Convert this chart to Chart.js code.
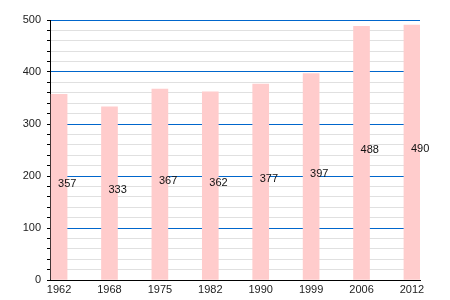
<!DOCTYPE html>
<html>
<head>
<meta charset="utf-8">
<script src="https://cdn.jsdelivr.net/npm/chart.js@4/dist/chart.umd.min.js"></script>
<style>
  body { margin: 0; background: #fff; }
</style>
</head>
<body>
<canvas id="myChart" width="450" height="300"></canvas>
<script>
const years = ["1962", "1968", "1975", "1982", "1990", "1999", "2006", "2012"];
const population = [357, 333, 367, 362, 377, 397, 488, 490];
const yTicks = [0, 100, 200, 300, 400, 500];
const minorStep = 20;

const fontFamily = "'Liberation Sans', Arial, sans-serif";

// draws the value in the middle of each bar, starting at the bar's center
const barLabels = {
  id: "barLabels",
  afterDatasetsDraw(chart) {
    const ctx = chart.ctx;
    const meta = chart.getDatasetMeta(0);
    ctx.save();
    ctx.font = "11px " + fontFamily;
    ctx.fillStyle = "#111";
    ctx.textAlign = "left";
    ctx.textBaseline = "alphabetic";
    meta.data.forEach((bar, i) => {
      ctx.fillText(population[i], bar.x - 1, (bar.y + bar.base) / 2);
    });
    ctx.restore();
  },
};

const ctx = document.getElementById("myChart").getContext("2d");
const myChart = new Chart(ctx, {
  type: "bar",
  data: {
    datasets: [
      {
        data: population.map((v, i) => ({ x: i, y: v })),
        backgroundColor: "#ffcccc",
        borderWidth: 0,
        barThickness: 16,
      },
    ],
  },
  options: {
    responsive: false,
    animation: false,
    layout: { padding: { top: 20, right: 30, left: 0, bottom: 0 } },
    plugins: {
      legend: { display: false },
      tooltip: { enabled: false },
    },
    scales: {
      x: {
        type: "linear",
        offset: false,
        min: -0.18,
        max: 7.16,
        afterBuildTicks: (axis) => {
          axis.ticks = years.map((_, i) => ({ value: i }));
        },
        afterFit: (axis) => {
          axis.height = 20;
        },
        grid: { offset: false, drawOnChartArea: false, drawTicks: false },
        border: { color: "#000", width: 1 },
        ticks: {
          padding: 3,
          color: "#222",
          font: { family: fontFamily, size: 11 },
          maxRotation: 0,
          autoSkip: false,
          callback: (value) => years[value],
        },
      },
      y: {
        min: 0,
        max: 500,
        afterFit: (axis) => {
          axis.width = 50;
        },
        afterBuildTicks: (axis) => {
          const ticks = [];
          for (let v = 0; v <= 500; v += minorStep) ticks.push({ value: v });
          axis.ticks = ticks;
        },
        ticks: {
          padding: 6,
          autoSkip: false,
          color: "#222",
          font: { family: fontFamily, size: 11 },
          callback: (value) => (yTicks.includes(value) ? value : ""),
        },
        grid: {
          tickLength: 3,
          tickColor: "#000",
          color: (c) => {
            const v = c.tick.value;
            if (v === 0) return "#000";
            return yTicks.includes(v) ? "#0066cc" : "#e0e0e0";
          },
        },
        border: { color: "#000", width: 1 },
      },
    },
  },
  plugins: [barLabels],
});
</script>
</body>
</html>
